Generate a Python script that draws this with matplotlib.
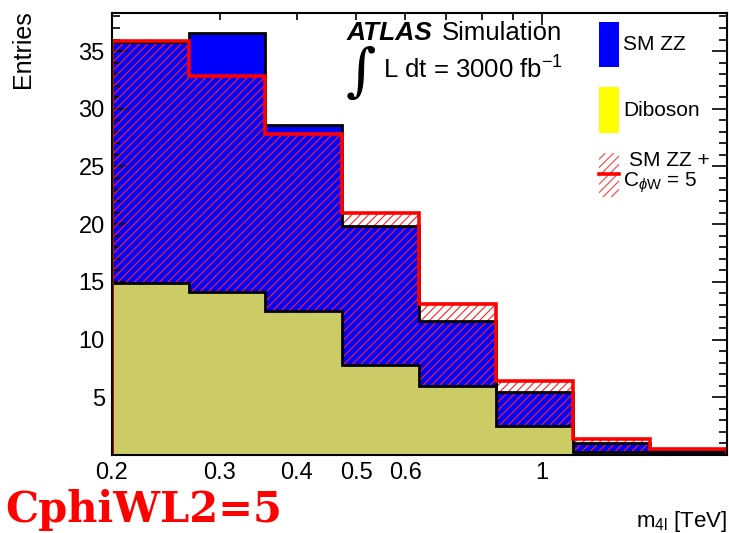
import matplotlib
matplotlib.use('Agg')
import matplotlib.pyplot as plt
from matplotlib.patches import Rectangle
from matplotlib.lines import Line2D
from matplotlib.ticker import FixedLocator, FuncFormatter

plt.rcParams['font.family'] = ['Liberation Sans', 'DejaVu Sans']
plt.rcParams['mathtext.fontset'] = 'custom'
plt.rcParams['mathtext.rm'] = 'Liberation Sans'
plt.rcParams['mathtext.it'] = 'Liberation Sans:italic'
plt.rcParams['mathtext.bf'] = 'Liberation Sans:bold'
plt.rcParams['hatch.linewidth'] = 0.8

# ---- data ----
bin_edges = [0.2, 0.2667, 0.3557, 0.4743, 0.6325, 0.8434, 1.1247, 1.4998, 2.0]
diboson = [14.9, 14.1, 12.5, 7.8, 6.0, 2.5, 0.25, 0.05]
sm_zz = [20.9, 22.5, 16.1, 12.0, 5.6, 3.0, 0.8, 0.32]
sm_zz_cphiw = [35.9, 32.8, 27.8, 21.0, 13.1, 6.4, 1.4, 0.52]
x_major = [1.0]
x_minor = [0.2, 0.3, 0.4, 0.5, 0.6, 0.7, 0.8, 0.9, 2.0]
x_labels = {0.2: '0.2', 0.3: '0.3', 0.4: '0.4', 0.5: '0.5', 0.6: '0.6', 1.0: '1'}
y_major = [5, 10, 15, 20, 25, 30, 35]

total = [d + z for d, z in zip(diboson, sm_zz)]

W, H = 729, 533
fig = plt.figure(figsize=(W / 100, H / 100), dpi=100)
L, R, T, B = 111.7, 726.7, 13, 455
ax = fig.add_axes([L / W, 1 - B / H, (R - L) / W, (B - T) / H])

blue = '#0000FF'
olive = '#CCCC66'

ax.stairs(total, bin_edges, baseline=0, fill=True, facecolor=blue, edgecolor='none', lw=0, zorder=1)
ax.stairs(sm_zz_cphiw, bin_edges, baseline=0, fill=True, facecolor='none', edgecolor='#FF2020',
          hatch='////', lw=0, zorder=2)
ax.stairs(diboson, bin_edges, baseline=0, fill=True, facecolor=olive, edgecolor='none', lw=0, zorder=3)
ax.stairs(total, bin_edges, baseline=0, fill=False, color='black', lw=2, zorder=4)
ax.stairs(diboson, bin_edges, baseline=0, fill=False, color='black', lw=2, zorder=4)
ax.stairs(sm_zz_cphiw, bin_edges, baseline=0, fill=False, color='red', lw=2.6, zorder=5)

ax.set_xscale('log')
ax.set_xlim(0.2, 2.0)
ax.set_ylim(0, 38.3)

ax.xaxis.set_major_locator(FixedLocator(x_major))
ax.xaxis.set_minor_locator(FixedLocator(x_minor))
fmt = FuncFormatter(lambda v, p: x_labels.get(round(v, 3), ''))
ax.xaxis.set_major_formatter(fmt)
ax.xaxis.set_minor_formatter(fmt)
ax.yaxis.set_major_locator(FixedLocator(y_major))
ax.yaxis.set_minor_locator(FixedLocator(list(range(1, 39))))

ax.tick_params(axis='both', which='both', direction='in', top=True, right=True, width=1.2)
ax.tick_params(axis='x', which='major', length=8.6, labelsize=17, pad=5)
ax.tick_params(axis='x', which='minor', length=5, labelsize=17, pad=5)
ax.tick_params(axis='y', which='major', length=11, labelsize=17, pad=5)
ax.tick_params(axis='y', which='minor', length=6, pad=5)
for s in ax.spines.values():
    s.set_linewidth(1.5)
    s.set_zorder(6)

def fx(px):
    return px / W

def fy(py):
    return 1 - py / H

# axis titles
fig.text(fx(23), fy(10), 'Entries', rotation=90, ha='center', va='top', fontsize=18)
fig.text(fx(727), fy(521), r'm$_{\mathrm{4l}}$ [TeV]', ha='right', va='center', fontsize=16)

# ATLAS label
fig.text(fx(347), fy(33), 'ATLAS', fontsize=19, fontweight='bold', fontstyle='italic',
         ha='left', va='center')
fig.text(fx(442), fy(33), 'Simulation', fontsize=18.5, ha='left', va='center')
fig.text(fx(361), fy(74), '\u222b', fontsize=42, family='DejaVu Serif', ha='center', va='center')
fig.text(fx(383), fy(70), r'L dt = 3000 fb$^{\mathrm{-1}}$', fontsize=18.5, ha='left', va='center')

# legend
fig.patches.append(Rectangle((fx(599), fy(67)), fx(20), (67 - 22) / H, transform=fig.transFigure,
                             facecolor=blue, edgecolor='none'))
fig.patches.append(Rectangle((fx(599), fy(133)), fx(20), (133 - 87) / H, transform=fig.transFigure,
                             facecolor='#FFFF00', edgecolor='none'))
fig.patches.append(Rectangle((fx(599), fy(197)), fx(20), (197 - 153) / H, transform=fig.transFigure,
                             facecolor='none', edgecolor='#FF4040', hatch='////', lw=0))
fig.lines.append(Line2D([fx(599), fx(619)], [fy(174), fy(174)], transform=fig.transFigure,
                        color='red', lw=2.6))
fig.text(fx(623), fy(45), 'SM ZZ', fontsize=15, ha='left', va='center')
fig.text(fx(623), fy(110), 'Diboson', fontsize=15, ha='left', va='center')
fig.text(fx(629), fy(160), 'SM ZZ +', fontsize=15, ha='left', va='center')
fig.text(fx(623), fy(183), r'C$_{\phi\mathrm{W}}$ = 5', fontsize=15, ha='left', va='center')

# big red label
fig.text(fx(5), fy(510), 'CphiWL2=5', fontsize=30, fontweight='bold', family='DejaVu Serif',
         color='red', ha='left', va='center')

fig.savefig('out.png', dpi=100)
